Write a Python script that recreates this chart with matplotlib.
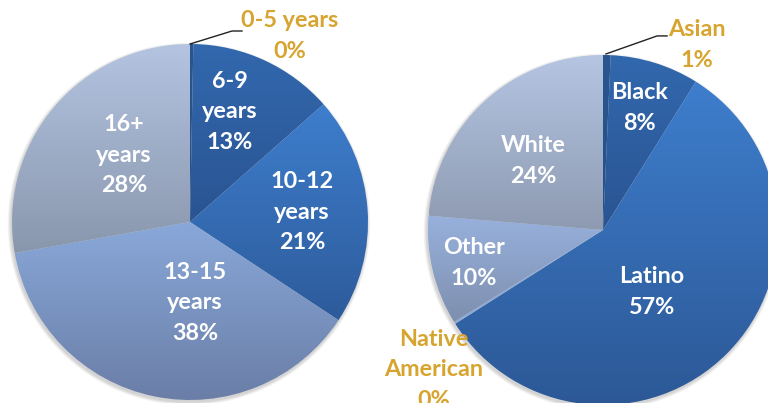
import numpy as np
import matplotlib
matplotlib.use("Agg")
import matplotlib.pyplot as plt
from matplotlib.colors import LinearSegmentedColormap
from matplotlib.patches import Circle

# age of children (left pie), clockwise from 12 o'clock
age_labels = ["0-5 years", "6-9\nyears", "10-12\nyears", "13-15\nyears", "16+\nyears"]
age_values = [0.3, 13.2, 20.8, 37.9, 27.8]

# race / ethnicity (right pie)
race_labels = ["Asian", "Black", "Latino", "Native\nAmerican", "Other", "White"]
race_values = [0.7, 8.2, 57.1, 0.2, 10.1, 23.7]

W, H = 768, 403
GOLD = "#d6a42f"

# gradient colours per slice (top, bottom)
age_colors = [("#2a558f", "#27508a"), ("#3268ae", "#2a5492"), ("#3e7ecd", "#2d5b9b"),
              ("#89a8d9", "#6a7ea7"), ("#b4c4e1", "#8997ad")]
race_colors = [("#2a558f", "#27508a"), ("#3268ae", "#2a5492"), ("#3e7ecd", "#2c5896"),
               ("#8fa9d6", "#8fa9d6"), ("#97b1dd", "#7e8fae"), ("#b5c5e2", "#8d9ab1")]

# label placement, as fractions of the radius from the pie centre
age_pos = [(0.56, 1.045), (0.225, 0.618), (0.629, 0.056), (0.028, -0.455), (-0.371, 0.376)]
race_pos = [(0.537, 1.057), (0.211, 0.697), (0.28, -0.354), (-0.966, -0.80),
            (-0.737, -0.189), (-0.40, 0.394)]
age_outside = [True, False, False, False, False]
race_outside = [True, False, False, True, False, False]

plt.rcParams['font.family'] = ['Lato', 'DejaVu Sans']

fig = plt.figure(figsize=(W / 100, H / 100), dpi=100)
ax = fig.add_axes([0, 0, 1, 1])


def gradient_fill(wedge, top, bottom):
    x0, y0, x1, y1 = wedge.get_path().get_extents().extents
    cmap = LinearSegmentedColormap.from_list("g", [bottom, top])
    grad = np.linspace(0, 1, 256).reshape(-1, 1)
    im = ax.imshow(grad, extent=(x0, x1, y0, y1), origin="lower", cmap=cmap,
                   interpolation="bilinear", zorder=2)
    im.set_clip_path(wedge)


def draw_pie(values, labels, colors, pos, outside, cx, cy, r):
    # soft shadow
    for i in range(5):
        ax.add_patch(Circle((cx - 1, cy - 2), r + 0.5 + i * 0.7, color="black",
                            alpha=0.035, lw=0, zorder=1))
    wedges, _ = ax.pie(values, center=(cx, cy), radius=r, startangle=90,
                       counterclock=False, wedgeprops=dict(lw=0))
    for w, (top, bot) in zip(wedges, colors):
        w.set_facecolor("none")
        w.set_edgecolor("none")
        gradient_fill(w, top, bot)
    for lab, v, (fx, fy), out in zip(labels, values, pos, outside):
        txt = f"{lab}\n{round(v)}%"
        ax.text(cx + fx * r, cy + fy * r, txt, ha="center", va="center",
                fontsize=16.8, fontweight="bold", linespacing=1.55,
                color=GOLD if out else "white", zorder=5)


lc, lr = (190, H - 222), 178
rc, rr = (603, H - 230), 175
draw_pie(age_values, age_labels, age_colors, age_pos, age_outside, lc[0], lc[1], lr)
draw_pie(race_values, race_labels, race_colors, race_pos, race_outside, rc[0], rc[1], rr)

# leader lines for the tiny slices
ax.plot([lc[0], lc[0] + 0.236 * lr, lc[0] + 0.292 * lr],
        [lc[1] + lr, lc[1] + 1.073 * lr, lc[1] + 1.073 * lr], color="#222222", lw=1, zorder=4)
ax.plot([rc[0] + 0.017 * rr, rc[0] + 0.309 * rr, rc[0] + 0.366 * rr],
        [rc[1] + 1.006 * rr, rc[1] + 1.109 * rr, rc[1] + 1.109 * rr], color="#222222", lw=1, zorder=4)

ax.set_xlim(0, W)
ax.set_ylim(0, H)
ax.set_aspect("equal")
ax.axis("off")

fig.savefig("out.png", dpi=100)
